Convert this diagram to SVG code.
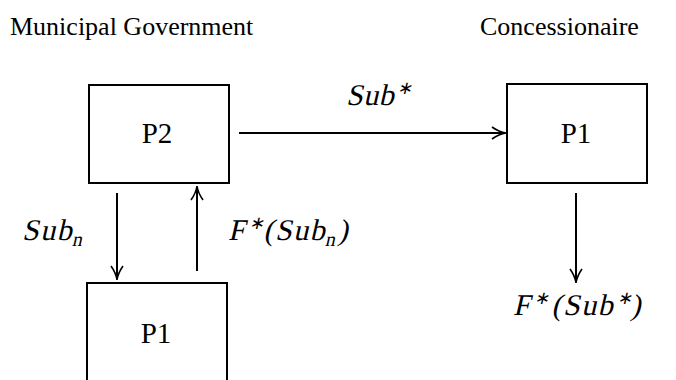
<svg xmlns="http://www.w3.org/2000/svg" width="676" height="380" viewBox="0 0 676 380">
<style>
.box{fill:#fff;stroke:#000;stroke-width:2}
.c{stroke:#000;stroke-width:2;fill:none}
.h{stroke:#000;stroke-width:1.6;fill:none}
</style>
<text x="10" y="35" font-family="'Liberation Serif', 'Times New Roman', serif" font-size="26">Municipal Government</text>
<text x="480" y="35" font-family="'Liberation Serif', 'Times New Roman', serif" font-size="26">Concessionaire</text>
<g id="p2"><rect class="box" x="89" y="85" width="140" height="98"/><text x="157" y="143" text-anchor="middle" font-family="'Liberation Serif', 'Times New Roman', serif" font-size="29">P2</text></g>
<g id="p1r"><rect class="box" x="507" y="84" width="140" height="99"/><text x="576" y="143" text-anchor="middle" font-family="'Liberation Serif', 'Times New Roman', serif" font-size="29">P1</text></g>
<g id="p1b"><rect class="box" x="87" y="283" width="140" height="110"/><text x="156" y="343" text-anchor="middle" font-family="'Liberation Serif', 'Times New Roman', serif" font-size="29">P1</text></g>
<g id="connectors">
<line class="c" x1="239" y1="133" x2="505" y2="133"/>
<path class="h" d="M492,127 Q499,132 506,133 Q499,134 492,139"/>
<line class="c" x1="117" y1="193" x2="117" y2="279"/>
<path class="h" d="M111,266 Q116,273 117,280 Q118,273 123,266"/>
<line class="c" x1="197" y1="271" x2="197" y2="187"/>
<path class="h" d="M191,200 Q196,193 197,186 Q198,193 203,200"/>
<line class="c" x1="576" y1="193" x2="576" y2="282"/>
<path class="h" d="M570,269 Q575,276 576,283 Q577,276 582,269"/>
</g>
<g id="labels">
<text transform="translate(346,105) skewX(-13)" font-family="'Liberation Serif', 'Times New Roman', serif" font-size="30" letter-spacing="0.5">Sub<tspan font-size="18" dy="-11">∗</tspan></text>
<text transform="translate(22,240) skewX(-13)" font-family="'Liberation Serif', 'Times New Roman', serif" font-size="30" letter-spacing="1.5">Sub<tspan font-size="20" dy="6">n</tspan></text>
<text transform="translate(228,240) skewX(-13)" font-family="'Liberation Serif', 'Times New Roman', serif" font-size="30" letter-spacing="1.5">F<tspan font-size="18" dy="-11">∗</tspan><tspan dy="11" dx="1">(</tspan>Sub<tspan font-size="20" dy="6">n</tspan><tspan dy="-6">)</tspan></text>
<text transform="translate(513,315) skewX(-13)" font-family="'Liberation Serif', 'Times New Roman', serif" font-size="30" letter-spacing="1.5">F<tspan font-size="18" dy="-11">∗</tspan><tspan dy="11" dx="4">(</tspan>Sub<tspan font-size="18" dy="-11">∗</tspan><tspan dy="11">)</tspan></text>
</g>
</svg>
